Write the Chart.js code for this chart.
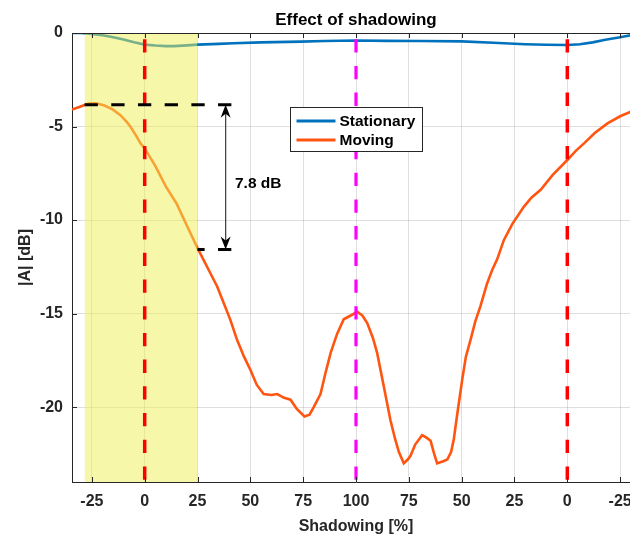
<!DOCTYPE html>
<html lang="en">
<head>
    <meta charset="UTF-8">
    <title>Effect of shadowing</title>
    <script src="https://cdn.jsdelivr.net/npm/chart.js"></script>
    <style>
        body {
            margin: 0;
            padding: 0;
            background: #fff;
            overflow: hidden;
        }

        #wrap {
            width: 640px;
            height: 536px;
            position: relative;
        }
    </style>
</head>
<body>

    <div id="wrap">
        <canvas id="shadowChart"></canvas>
    </div>

    <script>
        // x axis runs over a "position" value; labels go -25..100..-25
        const tickPositions = [-25, 0, 25, 50, 75, 100, 125, 150, 175, 200, 225];
        const tickLabels = ['-25', '0', '25', '50', '75', '100', '75', '50', '25', '0', '-25'];
        const yTicks = [-20, -15, -10, -5, 0];

        // [position, |A| dB]
        const stationaryPts = [
            [-34.4, 0], [-30, 0], [-25, -0.05], [-20, -0.12], [-16, -0.2], [-10, -0.35], [-5, -0.5],
            [0, -0.62], [5, -0.67], [10, -0.7], [14, -0.7], [20, -0.66], [25, -0.62], [35, -0.58],
            [42, -0.55], [55, -0.5], [74, -0.46], [85, -0.43], [100, -0.4], [115, -0.42], [130, -0.43],
            [150, -0.45], [165, -0.52], [180, -0.6], [190, -0.63], [200, -0.64], [206, -0.6],
            [212, -0.5], [218, -0.36], [225, -0.23], [230, -0.12], [234.4, -0.05]
        ];
        const movingPts = [
            [-34.4, -4.09], [-31, -3.96], [-26.5, -3.77], [-23, -3.76], [-19, -3.88], [-15, -4.1],
            [-11.5, -4.39], [-8.5, -4.75], [-6.8, -5.0], [-4, -5.5], [-2, -5.9], [0, -6.17], [5, -7.1],
            [10, -8.2], [15, -9.1], [20, -10.3], [25, -11.5], [30, -12.6], [34.3, -13.55], [40.5, -15.32],
            [43.7, -16.4], [47, -17.3], [50, -18],
            [53, -18.8], [56.3, -19.3], [60, -19.35], [62.7, -19.3], [66, -19.5], [69, -19.6], [72, -20.1],
            [75.6, -20.5], [78, -20.4], [80, -20], [83.2, -19.3], [85.5, -18.2], [88, -17.1], [91, -16.1],
            [94.2, -15.3], [97.5, -15.1], [100.6, -14.9], [103, -15.1], [105.3, -15.5], [108, -16.3],
            [110, -17.1], [113, -18.8], [116.3, -20.7], [118.5, -21.7], [120.3, -22.4], [122.6, -23.0],
            [124.5, -22.8], [125.8, -22.6], [128, -22.0], [131.3, -21.5], [133, -21.6], [135.3, -21.8],
            [137, -22.5], [138.4, -23.0], [141, -22.9], [143.2, -22.8], [145, -22.4], [146.3, -21.7],
            [148, -20.3], [150.3, -18.5], [152, -17.3], [154.2, -16.4], [156.5, -15.4], [158.9, -14.6],
            [162, -13.4], [164.5, -12.65], [166.8, -12.1], [170, -11.06], [174, -10.2], [179.5, -9.28],
            [183, -8.8], [187.4, -8.38], [193, -7.6], [200, -6.79], [204, -6.3], [207.9, -5.9],
            [213, -5.35], [219, -4.83], [225, -4.45], [230, -4.21], [234.4, -4.05]
        ];

        // annotations
        const bandRange = [-28.45, 25];
        const redMarkers = [0, 200];
        const magentaMarker = 100;
        const levelHigh = -3.84;
        const levelLow = -11.57;
        const levelEnd = 42;
        const arrowPos = 38.3;
        const gapText = '7.8 dB';

        const X_MIN = -34.4, X_MAX = 234.4, Y_MIN = -24, Y_MAX = 0;
        const DARK = '#262626';
        const FONT = '"Liberation Sans", Arial, sans-serif';

        Chart.defaults.font.family = FONT;
        Chart.defaults.color = DARK;

        const toXY = pts => pts.map(p => ({ x: p[0], y: p[1] }));
        const vline = x => [{ x: x, y: Y_MAX }, { x: x, y: Y_MIN }];

        const datasets = [
            {
                label: 'Stationary', data: toXY(stationaryPts), borderColor: '#0072BD',
                borderWidth: 2.6, pointRadius: 0, order: 3
            },
            {
                label: 'Moving', data: toXY(movingPts), borderColor: '#FF5511',
                borderWidth: 2.6, pointRadius: 0, order: 2
            },
            {
                label: 'band', data: [{ x: bandRange[0], y: Y_MAX }, { x: bandRange[1], y: Y_MAX }],
                borderWidth: 0, pointRadius: 0, fill: 'start',
                backgroundColor: 'rgba(239, 239, 85, 0.5)', order: 1
            },
            {
                label: 'high', data: [{ x: bandRange[0], y: levelHigh }, { x: levelEnd, y: levelHigh }],
                borderColor: '#000', borderWidth: 3, borderDash: [13.3, 13.4], pointRadius: 0, order: 0
            },
            {
                label: 'low', data: [{ x: bandRange[1], y: levelLow }, { x: levelEnd, y: levelLow }],
                borderColor: '#000', borderWidth: 3, borderDash: [13.3, 13.4], borderDashOffset: 6.2,
                pointRadius: 0, order: 0
            }
        ];
        redMarkers.forEach(m => datasets.push({
            label: 'marker', data: vline(m), borderColor: '#FF0000', borderWidth: 3.5,
            borderDash: [13.3, 13.4], borderDashOffset: 20.5, pointRadius: 0, order: 0
        }));
        datasets.push({
            label: 'marker', data: vline(magentaMarker), borderColor: '#FF00FF', borderWidth: 3.2,
            borderDash: [13.3, 13.4], borderDashOffset: 20.5, pointRadius: 0, order: 0
        });

        // title, box, inner ticks, arrow, legend
        const decor = {
            id: 'decor',
            afterDatasetsDraw(chart) {
                const ctx = chart.ctx;
                const { left, right, top, bottom } = chart.chartArea;
                const xs = chart.scales.x, ys = chart.scales.y;
                ctx.save();

                // top edge + tick marks pointing in
                ctx.strokeStyle = DARK;
                ctx.lineWidth = 1;
                ctx.beginPath();
                ctx.moveTo(left, top + 0.5);
                ctx.lineTo(right, top + 0.5);
                tickPositions.forEach(v => {
                    const px = Math.round(xs.getPixelForValue(v)) + 0.5;
                    ctx.moveTo(px, bottom);
                    ctx.lineTo(px, bottom - 5);
                    ctx.moveTo(px, top);
                    ctx.lineTo(px, top + 5);
                });
                yTicks.forEach(v => {
                    const py = Math.round(ys.getPixelForValue(v)) + 0.5;
                    ctx.moveTo(left, py);
                    ctx.lineTo(left + 5, py);
                });
                ctx.stroke();

                // double arrow
                const ax = xs.getPixelForValue(arrowPos);
                const y1 = ys.getPixelForValue(levelHigh);
                const y2 = ys.getPixelForValue(levelLow);
                ctx.strokeStyle = '#444';
                ctx.lineWidth = 1.3;
                ctx.beginPath();
                ctx.moveTo(ax, y1 + 4);
                ctx.lineTo(ax, y2 - 4);
                ctx.stroke();
                ctx.fillStyle = '#000';
                [[y1, 1], [y2, -1]].forEach(([ty, d]) => {
                    ctx.beginPath();
                    ctx.moveTo(ax, ty);
                    ctx.lineTo(ax - 5, ty + 13 * d);
                    ctx.lineTo(ax, ty + 9 * d);
                    ctx.lineTo(ax + 5, ty + 13 * d);
                    ctx.closePath();
                    ctx.fill();
                });

                ctx.font = 'bold 15.5px ' + FONT;
                ctx.fillStyle = '#000';
                ctx.textAlign = 'left';
                ctx.textBaseline = 'middle';
                ctx.fillText(gapText, 235, 183.5);

                // legend
                const lx = 290.5, ly = 107.5, lw = 132, lh = 44;
                ctx.fillStyle = '#fff';
                ctx.fillRect(lx, ly, lw, lh);
                ctx.strokeStyle = DARK;
                ctx.lineWidth = 1;
                ctx.strokeRect(lx, ly, lw, lh);
                [0, 1].forEach(i => {
                    const ds = chart.data.datasets[i];
                    const cy = ly + 13.5 + i * 19;
                    ctx.strokeStyle = ds.borderColor;
                    ctx.lineWidth = 3;
                    ctx.beginPath();
                    ctx.moveTo(lx + 6, cy);
                    ctx.lineTo(lx + 45, cy);
                    ctx.stroke();
                    ctx.fillStyle = '#000';
                    ctx.font = 'bold 15.5px ' + FONT;
                    ctx.fillText(ds.label, lx + 49, cy + 0.5);
                });

                // title
                ctx.font = 'bold 17px ' + FONT;
                ctx.textAlign = 'center';
                ctx.fillStyle = '#000';
                ctx.fillText('Effect of shadowing', (left + right) / 2, 20.5);
                ctx.restore();
            }
        };

        const ctx = document.getElementById('shadowChart').getContext('2d');
        new Chart(ctx, {
            type: 'line',
            data: { datasets: datasets },
            options: {
                responsive: true,
                maintainAspectRatio: false,
                animation: false,
                layout: { padding: { top: 33, left: 0, right: 0, bottom: 0 } },
                plugins: { legend: { display: false }, tooltip: { enabled: false } },
                scales: {
                    x: {
                        type: 'linear', min: X_MIN, max: X_MAX,
                        afterBuildTicks: s => { s.ticks = tickPositions.map(v => ({ value: v })); },
                        afterFit: s => { s.height = 54; s.paddingLeft = 0; s.paddingRight = 0; },
                        ticks: {
                            callback: v => tickLabels[tickPositions.indexOf(v)],
                            font: { size: 16, weight: 'bold' }, color: DARK, padding: 10,
                            maxRotation: 0, autoSkip: false
                        },
                        grid: { color: 'rgba(38,38,38,0.15)', drawTicks: false },
                        border: { color: DARK, width: 1 },
                        title: {
                            display: true, text: 'Shadowing [%]', color: DARK,
                            font: { size: 16, weight: 'bold' }, padding: { top: 3, bottom: 0 }
                        }
                    },
                    y: {
                        type: 'linear', min: Y_MIN, max: Y_MAX,
                        afterBuildTicks: s => { s.ticks = yTicks.map(v => ({ value: v })); },
                        afterFit: s => { s.width = 72; s.paddingTop = 0; s.paddingBottom = 0; },
                        ticks: {
                            font: { size: 16, weight: 'bold' }, color: DARK, padding: 9
                        },
                        grid: { color: 'rgba(38,38,38,0.15)', drawTicks: false },
                        border: { color: DARK, width: 1 },
                        title: {
                            display: true, text: '|A| [dB]', color: DARK,
                            font: { size: 16, weight: 'bold' }, padding: { top: 16, bottom: 0 }
                        }
                    }
                }
            },
            plugins: [decor]
        });
    </script>

</body>
</html>
